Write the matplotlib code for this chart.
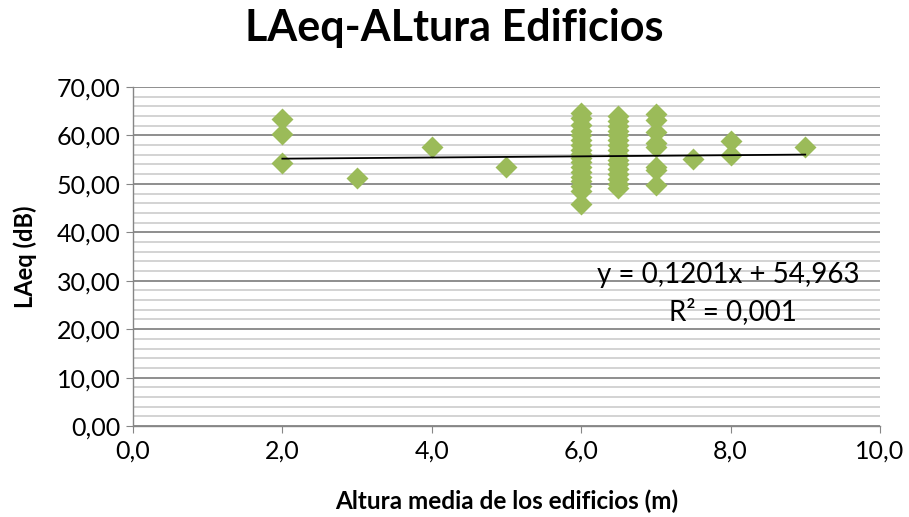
import matplotlib.pyplot as plt
from matplotlib.ticker import MultipleLocator, FuncFormatter
import numpy as np

plt.rcParams['font.family'] = ['Lato', 'DejaVu Sans']

# datos
altura_2 = [2.0, 2.0, 2.0]
laeq_2 = [63.3, 60.3, 54.3]
altura_sueltos = [3.0, 4.0, 5.0, 7.5, 8.0, 8.0, 9.0]
laeq_sueltos = [51.2, 57.6, 53.5, 55.1, 58.8, 56.0, 57.6]
laeq_6 = [64.6, 63.5, 62.2, 61.0, 60.0, 59.0, 58.0, 57.0, 56.2, 55.4,
          54.5, 53.5, 52.5, 51.5, 50.5, 49.5, 48.5, 45.8]
laeq_65 = [64.0, 63.0, 62.0, 61.0, 60.0, 59.0, 58.0, 57.0, 56.0, 55.0,
           54.0, 53.0, 52.0, 51.0, 50.0, 49.2]
laeq_7 = [64.5, 63.1, 60.7, 58.4, 57.6, 53.5, 52.9, 49.8]

x = np.array(altura_2 + altura_sueltos + [6.0] * len(laeq_6) + [6.5] * len(laeq_65) + [7.0] * len(laeq_7))
y = np.array(laeq_2 + laeq_sueltos + laeq_6 + laeq_65 + laeq_7)

pendiente = 0.1201
ordenada = 54.963

fig = plt.figure(figsize=(9.09, 5.17), dpi=100)
ax = fig.add_axes([0.1463, 0.176, 0.8217, 0.6557])

ax.scatter(x, y, marker='D', s=125, color='#9BBB59', zorder=3, linewidths=0)
xt = np.array([x.min(), x.max()])
ax.plot(xt, pendiente * xt + ordenada, color='black', lw=1.3, zorder=4)

ax.set_xlim(0, 10)
ax.set_ylim(0, 70)
ax.xaxis.set_major_locator(MultipleLocator(2))
ax.yaxis.set_major_locator(MultipleLocator(10))
ax.yaxis.set_minor_locator(MultipleLocator(2))
ax.xaxis.set_major_formatter(FuncFormatter(lambda v, p: ('%.1f' % v).replace('.', ',')))
ax.yaxis.set_major_formatter(FuncFormatter(lambda v, p: ('%.2f' % v).replace('.', ',')))

ax.grid(True, which='major', axis='y', color='#868686', lw=1.3, zorder=0)
ax.grid(True, which='minor', axis='y', color='#d0d0d0', lw=1.3, zorder=0)
ax.set_axisbelow(True)

for s in ['top', 'right']:
    ax.spines[s].set_visible(False)
for s in ['left', 'bottom']:
    ax.spines[s].set_color('#868686')
    ax.spines[s].set_linewidth(1.0)
ax.tick_params(axis='both', which='major', direction='out', length=5, color='#868686', labelsize=18, pad=4)
ax.tick_params(axis='y', which='minor', direction='out', length=0)
ax.tick_params(axis='x', which='major', pad=5)

ax.set_xlabel('Altura media de los edificios (m)', fontsize=17.5, fontweight='bold', labelpad=19)
ax.set_ylabel('LAeq (dB)', fontsize=17, fontweight='bold', labelpad=14)

fig.text(0.5, 0.946, 'LAeq-ALtura Edificios', ha='center', va='center', fontsize=31, fontweight='bold')
ax.text(7.97, 31.2, 'y = 0,1201x + 54,963', ha='center', va='center', fontsize=20)
ax.text(8.03, 23.7, 'R² = 0,001', ha='center', va='center', fontsize=20)

plt.savefig('out.png', dpi=100)
